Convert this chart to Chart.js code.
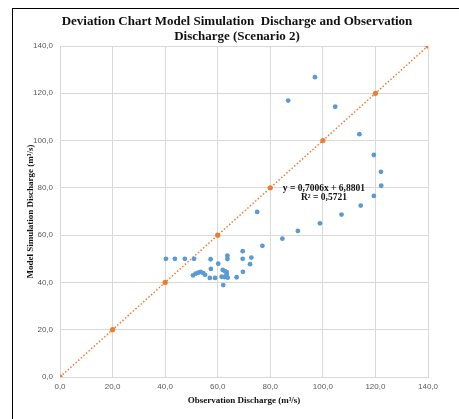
<!DOCTYPE html>
<html>
<head>
<meta charset="utf-8">
<script src="https://cdn.jsdelivr.net/npm/chart.js@4.4.1/dist/chart.umd.min.js"></script>
<style>
  body { margin: 0; background: #fff; }
  #wrap { position: relative; width: 459px; height: 419px; }
  #frame {
    position: absolute; left: 12px; top: 8px; right: 0; bottom: 0;
    border-left: 1.5px solid #000; border-top: 1.5px solid #000;
    pointer-events: none;
  }
</style>
</head>
<body>
<div id="wrap">
  <canvas id="deviationChart" width="459" height="419"></canvas>
  <div id="frame"></div>
</div>
<script>
const obsDischarge = [
  40.3, 43.7, 47.5, 51.0, 57.3, 63.7, 63.7, 69.5, 69.5,
  72.8, 72.3, 60.2, 57.4, 61.9, 62.7, 63.4, 69.6, 67.2, 63.8,
  62.6, 61.5, 59.0, 57.0, 62.1, 63.4, 50.6, 51.6, 52.6, 53.5,
  54.5, 55.2, 77.0, 75.0, 84.6, 90.5, 98.9, 107.1, 114.4, 119.4,
  122.2, 122.1, 119.4, 113.9, 104.7, 86.8, 97.0
];
const simDischarge = [
  50.0, 50.0, 50.0, 50.0, 49.8, 49.9, 51.3, 50.0, 53.2,
  50.5, 47.7, 47.9, 45.7, 45.3, 44.8, 44.4, 44.5, 42.2, 42.0,
  42.3, 42.4, 41.9, 41.9, 38.9, 43.4, 43.0, 43.7, 44.1, 44.5,
  43.9, 43.2, 55.5, 69.8, 58.5, 61.8, 65.0, 68.7, 72.5, 76.6,
  80.9, 86.8, 93.9, 102.7, 114.3, 116.9, 126.8
];
// 1:1 reference line
const refX = [0, 20, 40, 60, 80, 100, 120, 140];
const refY = [0, 20, 40, 60, 80, 100, 120, 140];

const titleLines = ['Deviation Chart Model Simulation  Discharge and Observation', 'Discharge (Scenario 2)'];
const trendLines = ['y = 0,7006x + 6,8801', 'R\u00b2 = 0,5721'];

const BLUE = '#5B9BD5';
const ORANGE = '#ED7D31';
const GRID = '#d9d9d9';
const SERIF = '"Liberation Serif", "Times New Roman", serif';

const fmt = v => Number(v).toFixed(1).replace('.', ',');

const toPoints = (xs, ys) => xs.map((x, i) => ({ x: x, y: ys[i] }));

// title + trendline label, Excel style
const textPlugin = {
  id: 'excelText',
  afterDraw(chart) {
    const ctx = chart.ctx;
    ctx.save();
    ctx.fillStyle = '#111';
    ctx.textAlign = 'center';
    ctx.textBaseline = 'middle';
    ctx.font = 'bold 13px ' + SERIF;
    ctx.fillText(titleLines[0], 237, 22);
    ctx.fillText(titleLines[1], 237, 37);

    const xs = chart.scales.x, ys = chart.scales.y;
    ctx.font = 'bold 9.5px ' + SERIF;
    ctx.fillText(trendLines[0], xs.getPixelForValue(100.4), ys.getPixelForValue(79.8));
    ctx.fillText(trendLines[1], xs.getPixelForValue(100.4), ys.getPixelForValue(76.0));
    ctx.restore();
  }
};

const axisCommon = {
  type: 'linear',
  min: 0,
  max: 140,
  grid: { color: GRID, lineWidth: 1, drawTicks: false },
  border: { color: GRID },
  ticks: {
    stepSize: 20,
    color: '#595959',
    font: { family: '"Liberation Sans", Arial, sans-serif', size: 8 },
    callback: fmt,
  },
};

new Chart(document.getElementById('deviationChart'), {
  type: 'scatter',
  data: {
    datasets: [{
      label: 'Simulation',
      data: toPoints(obsDischarge, simDischarge),
      backgroundColor: BLUE,
      borderWidth: 0,
      pointRadius: 2.4,
    }, {
      label: '1:1',
      data: toPoints(refX, refY),
      showLine: true,
      borderColor: ORANGE,
      borderWidth: 1.5,
      borderDash: [1.5, 2],
      backgroundColor: ORANGE,
      pointRadius: 2.6,
      pointBorderWidth: 0,
    }]
  },
  options: {
    responsive: false,
    animation: false,
    layout: { padding: { top: 46, right: 31, bottom: 9, left: 21 } },
    plugins: {
      legend: { display: false },
      tooltip: { enabled: false },
    },
    scales: {
      x: Object.assign({}, axisCommon, {
        position: 'bottom',
        ticks: Object.assign({}, axisCommon.ticks, { padding: 5, maxRotation: 0 }),
        title: {
          display: true,
          text: 'Observation Discharge (m\u00b3/s)',
          color: '#111',
          font: { family: SERIF, size: 9, weight: 'bold' },
          padding: { top: 0, bottom: 4 },
        },
        afterFit(scale) { scale.height = 33; },
      }),
      y: Object.assign({}, axisCommon, {
        position: 'left',
        ticks: Object.assign({}, axisCommon.ticks, { padding: 7 }),
        title: {
          display: true,
          text: 'Model Simulation Discharge (m\u00b3/s)',
          color: '#111',
          font: { family: SERIF, size: 9, weight: 'bold' },
          padding: { top: 4, bottom: 0 },
        },
        afterFit(scale) { scale.width = 39; },
      }),
    }
  },
  plugins: [textPlugin],
});
</script>
</body>
</html>
